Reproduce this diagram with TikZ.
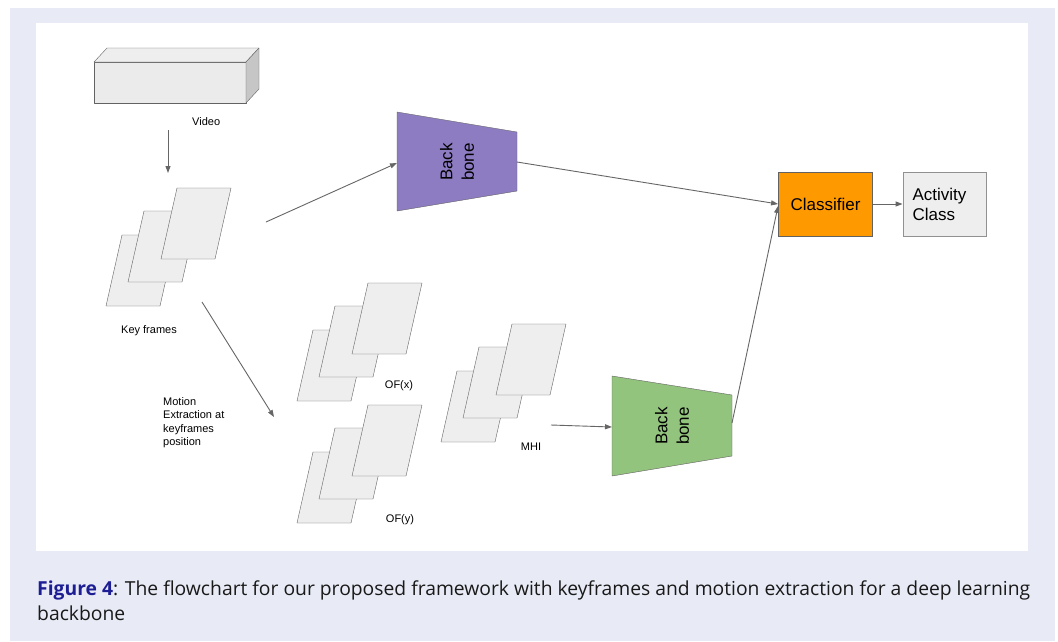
\documentclass[tikz,border=0pt]{standalone}
\usepackage{fontspec}
\setmainfont{Liberation Sans}
\newfontfamily\captionfont{Open Sans}
\usetikzlibrary{arrows.meta}
\definecolor{panel-blue}{HTML}{E8EBF6}
\definecolor{caption-blue}{HTML}{1D1D94}
\definecolor{frame-grey}{HTML}{EEEEEE}
\definecolor{front-grey}{HTML}{EBEBEB}
\definecolor{side-grey}{HTML}{C6C6C6}
\definecolor{edge-grey}{HTML}{626262}
\definecolor{arrow-grey}{HTML}{666666}
\definecolor{backbone-purple}{HTML}{8E7CC3}
\definecolor{backbone-green}{HTML}{93C47D}
\definecolor{classifier-orange}{HTML}{FF9900}

% three stacked frames, #1/#2 = lower left corner of the front frame
\newcommand{\framestack}[2]{%
  \foreach \dx/\dy in {0/0, 22/-24, 55/-47} {
    \draw[edge-grey, fill=frame-grey, line join=round] (#1+\dx, #2+\dy) -- ++(54, 0) -- ++(16, -71) -- ++(-54, 0) -- cycle;
  }
}

\begin{document}
\begin{tikzpicture}[x=1pt, y=-1pt,
    flow/.style={arrow-grey, line width=0.9pt, -{Triangle[length=7pt, width=5pt]}},
    smalltext/.style={font=\fontsize{11}{13.5}\selectfont, inner sep=0pt},
    boxnode/.style={draw=edge-grey, line width=0.9pt, minimum height=64pt, font=\fontsize{17}{20}\selectfont, inner sep=0pt}]
    \useasboundingbox (0, 0) rectangle (1058, 641);
    \fill[panel-blue] (10, 8) rectangle (1055, 641);
    \fill[white] (36, 23) rectangle (1028, 551);

    % video
    \draw[edge-grey, fill=front-grey, line join=round] (94, 62) rectangle (246, 103);
    \draw[edge-grey, fill=frame-grey, line join=round] (94, 62) -- (107, 48) -- (259, 48) -- (246, 62) -- cycle;
    \draw[edge-grey, fill=side-grey, line join=round] (246, 62) -- (259, 48) -- (259, 89) -- (246, 103) -- cycle;
    \node[smalltext, anchor=west] (video) at (192, 122) {Video};

    % frame stacks
    \framestack{106}{306}
    \framestack{297}{401}
    \framestack{297}{523}
    \framestack{441}{442}
    \node[smalltext] (keyframes) at (149, 331) {Key frames};
    \node[smalltext] (ofx) at (399, 386) {OF(x)};
    \node[smalltext] (ofy) at (400, 520) {OF(y)};
    \node[smalltext] (mhi) at (531, 447) {MHI};
    \node[smalltext, anchor=north west, align=left] (motion) at (163, 397) {Motion\\Extraction at\\keyframes\\position};

    % backbones
    \draw[edge-grey, fill=backbone-purple, line join=round] (397, 112) -- (517, 132) -- (517, 191) -- (397, 211) -- cycle;
    \node[rotate=90, align=center, font=\fontsize{17}{21.5}\selectfont] (backbone1) at (457, 162) {Back\\bone};
    \draw[edge-grey, fill=backbone-green, line join=round] (612, 376) -- (732, 395) -- (732, 456) -- (612, 476) -- cycle;
    \node[rotate=90, align=center, font=\fontsize{17}{21.5}\selectfont] (backbone2) at (672, 426) {Back\\bone};

    % classifier and output
    \node[boxnode, fill=classifier-orange, minimum width=94pt] (classifier) at (825.5, 204) {Classifier};
    \node[boxnode, fill=frame-grey, draw=edge-grey!70, minimum width=83pt, align=left, text width=64pt] (activity) at (944.5, 204) {Activity\\Class};

    % connectors
    \coordinate (video-out) at (168, 130);
    \coordinate (keyframes-in) at (168, 173);
    \coordinate (keyframes-out) at (266, 222);
    \coordinate (keyframes-down) at (202, 302);
    \coordinate (motion-in) at (274, 417);
    \coordinate (mhi-out) at (551, 425);
    \coordinate (bb1-in) at (397, 163);
    \coordinate (bb1-out) at (517, 162);
    \coordinate (bb2-in) at (612, 427);
    \coordinate (bb2-out) at (732, 423);
    \draw[flow] (video-out) -- (keyframes-in);
    \draw[flow] (keyframes-out) -- (bb1-in);
    \draw[flow] (keyframes-down) -- (motion-in);
    \draw[flow] (mhi-out) -- (bb2-in);
    \draw[flow] (bb1-out) -- (classifier.west);
    \draw[flow] (bb2-out) -- ([yshift=-2pt]classifier.west);
    \draw[flow] (classifier) -- (activity);

    % caption
    \node[anchor=base west, align=left, inner sep=0pt, font=\captionfont\fontsize{19.3}{25}\selectfont, text=black!90] (caption) at (37, 620)
      {{\bfseries\color{caption-blue}Figure 4}: The flowchart for our proposed framework with keyframes and motion extraction for a deep learning\\backbone};
\end{tikzpicture}
\end{document}
